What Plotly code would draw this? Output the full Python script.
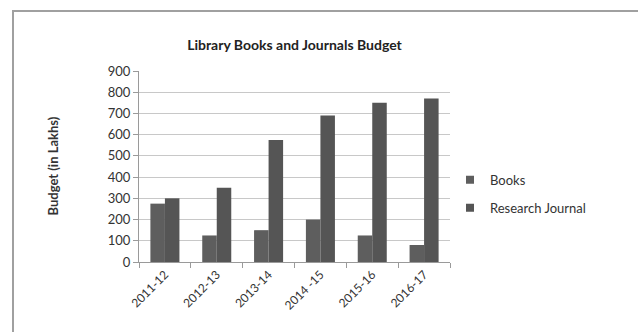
import plotly.graph_objects as go

years = ["2011-12", "2012-13", "2013-14", "2014 -15", "2015-16", "2016-17"]
books = [275, 125, 150, 200, 125, 80]
journals = [300, 350, 575, 690, 750, 770]
y_ticks = [0, 100, 200, 300, 400, 500, 600, 700, 800, 900]
series_names = ["Books", "Research Journal"]
series_colors = ["#5e5e5e", "#555555"]

FONT = "Lato"
fig = go.Figure()
for name, vals, col in zip(series_names, [books, journals], series_colors):
    fig.add_trace(go.Bar(x=years, y=vals, name=name, marker_color=col,
                         marker_line_width=0, showlegend=False))
# legend entries with small square swatches
for i, (name, col) in enumerate(zip(series_names, series_colors)):
    fig.add_trace(go.Scatter(x=[None], y=[None], mode="markers", name=name,
                             marker=dict(symbol="square", size=8, color=col),
                             legendgroup=str(i)))

fig.update_layout(
    width=638, height=332,
    margin=dict(l=139, r=188, t=71, b=70),
    paper_bgcolor="white", plot_bgcolor="white",
    barmode="group", bargap=0.44, bargroupgap=0,
    font=dict(family=FONT, size=13, color="#333333"),
    title=dict(text="<b>Library Books and Journals Budget</b>", x=0.5, xanchor="center",
               xref="paper", y=1 - 45 / 332, yanchor="middle",
               font=dict(family=FONT, size=14, color="#222222")),
    showlegend=True,
    legend=dict(x=1.0, xanchor="left", y=0.357, yanchor="middle",
                traceorder="grouped", tracegroupgap=8, itemwidth=30,
                font=dict(family=FONT, size=13, color="#333333"),
                bgcolor="rgba(0,0,0,0)"),
    xaxis=dict(type="category", automargin=False, showgrid=False, showline=True,
               linecolor="#9a9a9a", linewidth=1, ticks="outside", tickson="boundaries",
               ticklen=5, tickcolor="#9a9a9a", tickangle=-45,
               tickfont=dict(size=12, color="#333333")),
    yaxis=dict(range=[0, 900], tickvals=y_ticks, automargin=False, showgrid=True,
               gridcolor="#c8c8c8", gridwidth=1, showline=True, linecolor="#9a9a9a",
               zeroline=False, ticks="outside", ticklen=5, tickcolor="#9a9a9a",
               tickfont=dict(size=13, color="#333333")),
    annotations=[dict(text="<b>Budget (in Lakhs)</b>", xref="paper", yref="paper",
                      x=(52 - 139) / 311, y=0.5, textangle=-90, showarrow=False,
                      xanchor="center", yanchor="middle",
                      font=dict(family=FONT, size=13, color="#333333"))],
)

# chart frame (top and left edges visible)
fig.add_shape(type="rect", xref="paper", yref="paper",
              x0=(13 - 139) / 311, x1=(640 - 139) / 311,
              y0=-0.5, y1=(262 - 11) / 191,
              line=dict(color="#a0a0a0", width=2), fillcolor="rgba(0,0,0,0)", layer="below")

fig.write_html("out.html", config={"displayModeBar": False},
               post_script="document.body.style.margin='0px';document.body.style.overflow='hidden';")
